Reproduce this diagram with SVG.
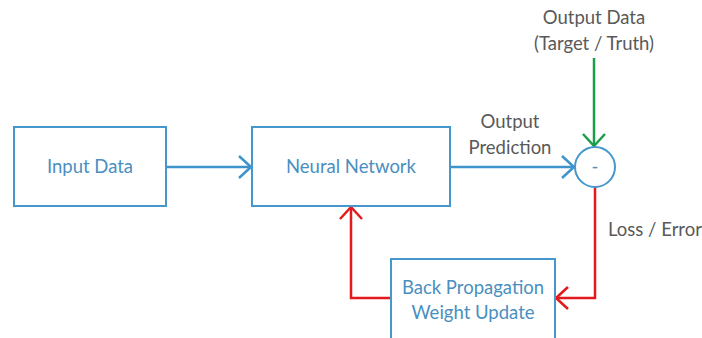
<svg xmlns="http://www.w3.org/2000/svg" width="702" height="338" viewBox="0 0 702 338">
<style>
.box{fill:#fff;stroke:#4597cc;stroke-width:2}
.lbl{font-family:Lato,"Open Sans",sans-serif;font-size:18.5px;fill:#4a8fbf;text-anchor:middle}
.txt{font-family:Lato,"Open Sans",sans-serif;font-size:18.5px;fill:#595959;text-anchor:middle}
.blue{stroke:#3d94cc;stroke-width:2.5;fill:none}
.red{stroke:#e3191c;stroke-width:2.5;fill:none}
.green{stroke:#1a9e4a;stroke-width:2.5;fill:none}
</style>
<defs>
<marker id="ab" markerWidth="16" markerHeight="24" refX="13" refY="12" orient="auto" markerUnits="userSpaceOnUse"><path d="M1,1 L13,12 L1,23" fill="none" stroke="#3d94cc" stroke-width="2.5"/></marker>
<marker id="ar" markerWidth="16" markerHeight="24" refX="13" refY="12" orient="auto" markerUnits="userSpaceOnUse"><path d="M1,1 L13,12 L1,23" fill="none" stroke="#e3191c" stroke-width="2.5"/></marker>
<marker id="ag" markerWidth="16" markerHeight="24" refX="13" refY="12" orient="auto" markerUnits="userSpaceOnUse"><path d="M1,1 L13,12 L1,23" fill="none" stroke="#1a9e4a" stroke-width="2.5"/></marker>
</defs>
<rect width="702" height="338" fill="#fff"/>
<g id="connectors">
<line class="blue" x1="166" y1="167" x2="251" y2="167" marker-end="url(#ab)"/>
<line class="blue" x1="450" y1="167" x2="574" y2="167" marker-end="url(#ab)"/>
<line class="green" x1="594" y1="58" x2="594" y2="146" marker-end="url(#ag)"/>
<polyline class="red" points="595,187 595,298 556,298" marker-end="url(#ar)"/>
<polyline class="red" points="391,298 351,298 351,207" marker-end="url(#ar)"/>
<text class="txt" x="510" y="128">Output</text>
<text class="txt" x="510" y="154">Prediction</text>
<text class="txt" x="655" y="236">Loss / Error</text>
</g>
<g id="input">
<rect class="box" x="14" y="127" width="152" height="79"/>
<text class="lbl" x="90" y="173">Input Data</text>
</g>
<g id="nn">
<rect class="box" x="252" y="127" width="198" height="79"/>
<text class="lbl" x="351" y="173">Neural Network</text>
</g>
<g id="minus">
<circle cx="595" cy="167" r="20" fill="#fff" stroke="#4597cc" stroke-width="2"/>
<text class="lbl" x="595" y="173">-</text>
</g>
<g id="target">
<text class="txt" x="594" y="24">Output Data</text>
<text class="txt" x="594" y="50">(Target / Truth)</text>
</g>
<g id="backprop">
<rect class="box" x="391" y="259" width="164" height="80"/>
<text class="lbl" x="473" y="294">Back Propagation</text>
<text class="lbl" x="473" y="319">Weight Update</text>
</g>
</svg>
